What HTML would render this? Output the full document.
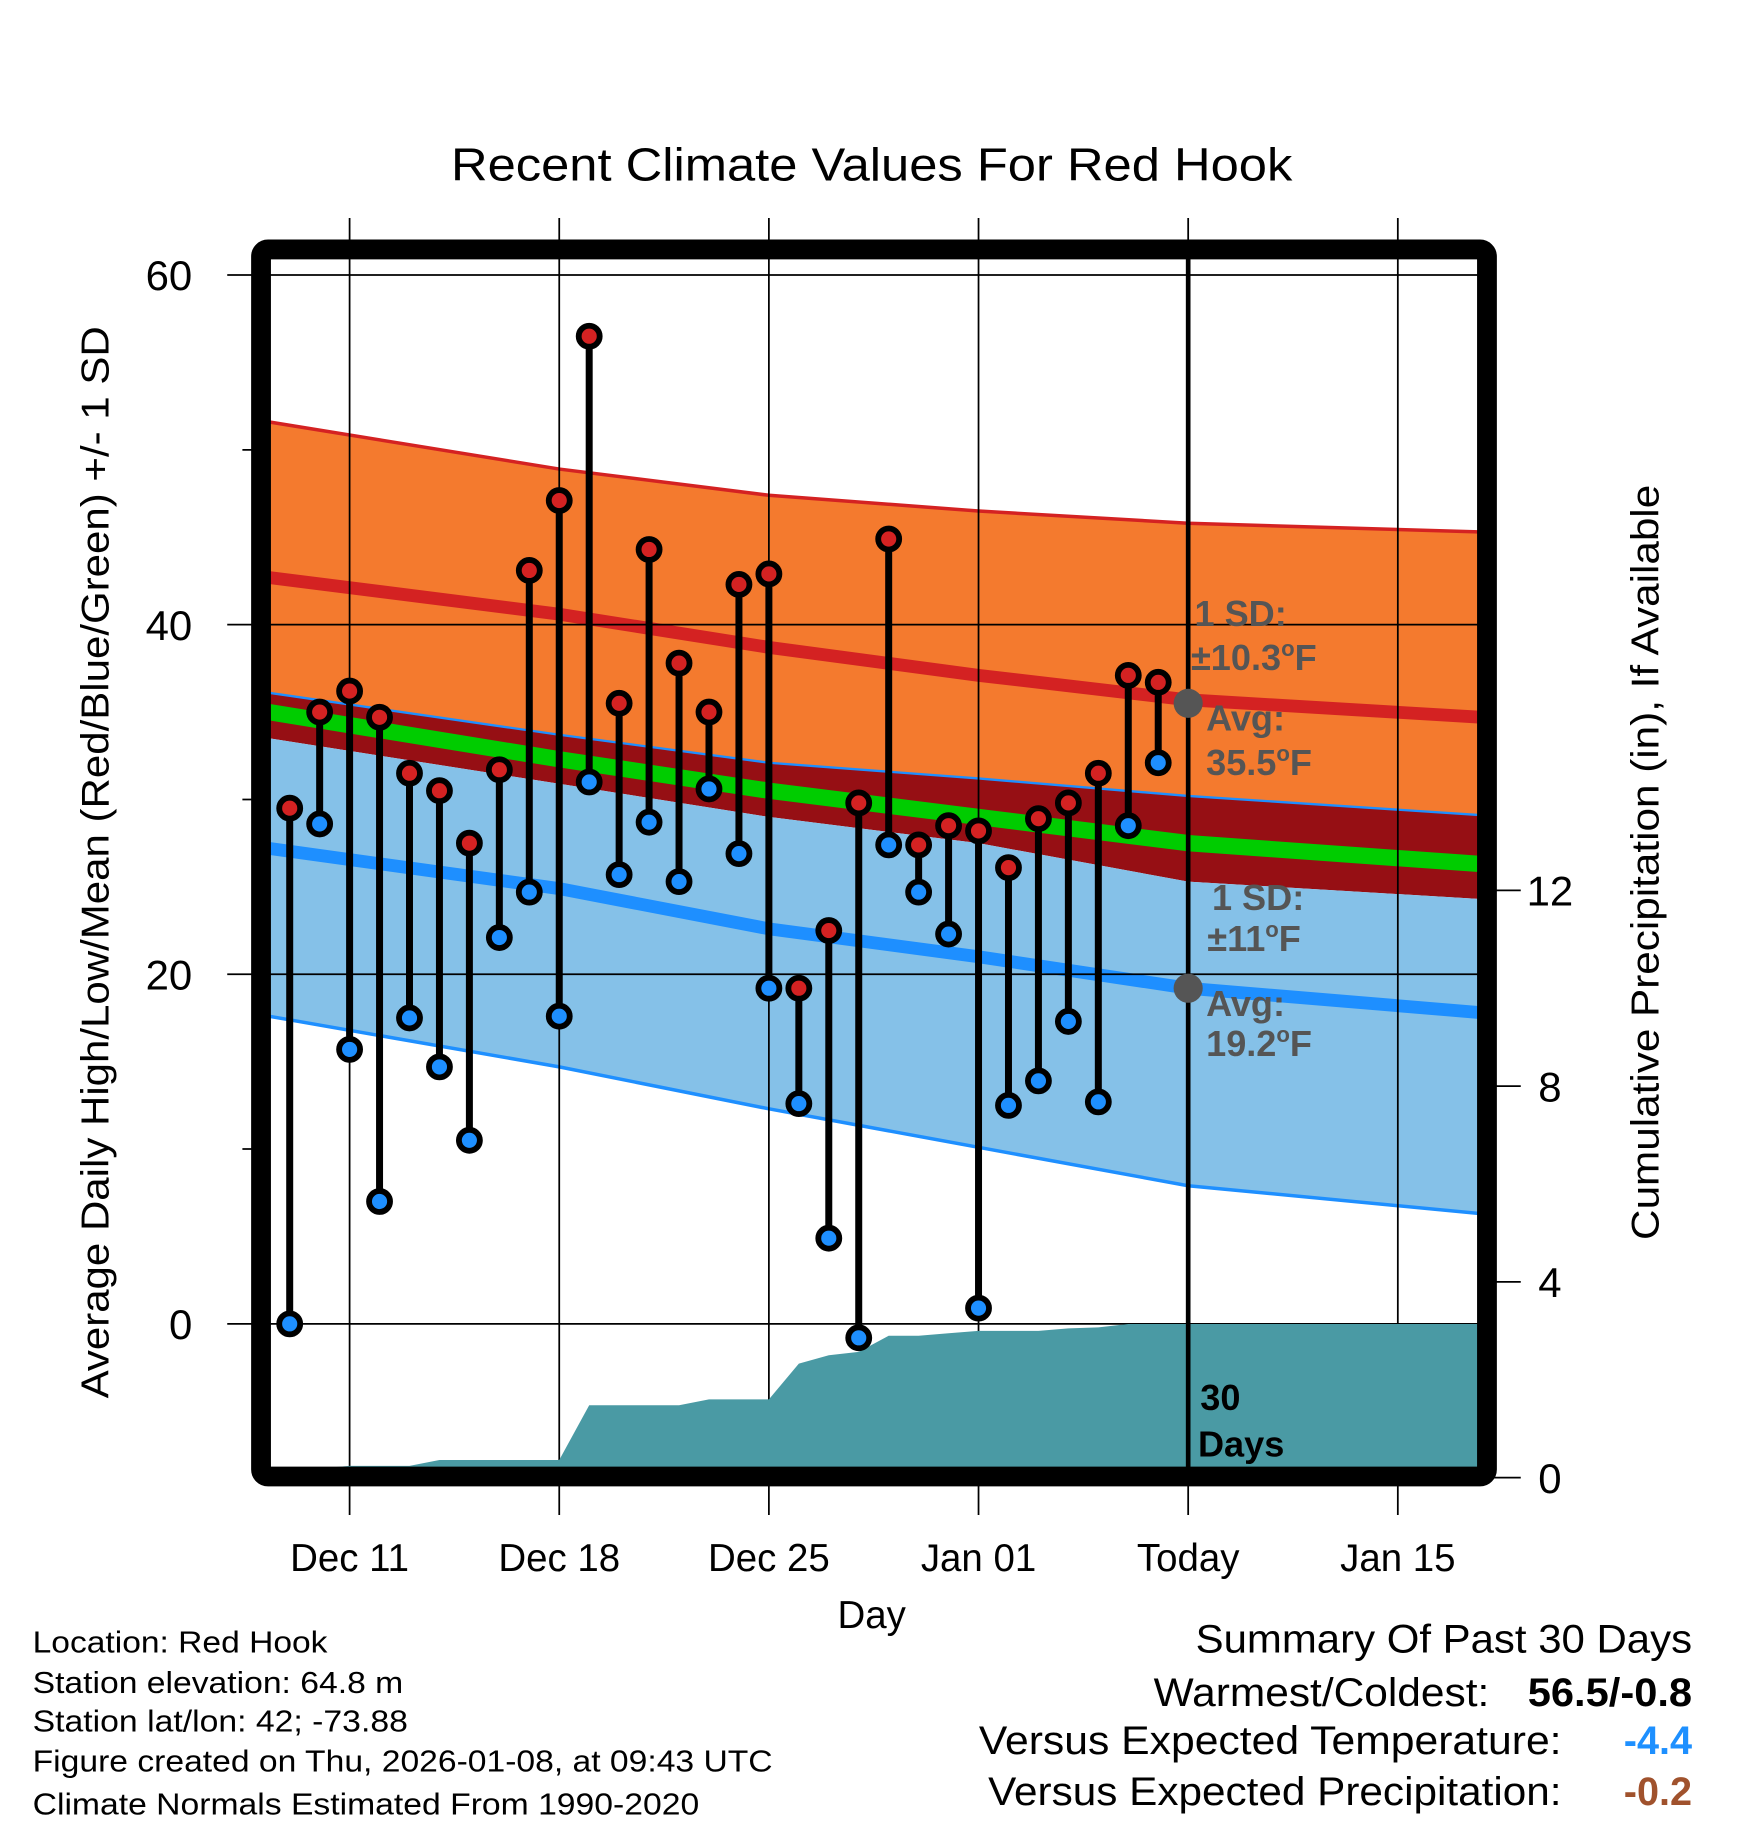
<!DOCTYPE html>
<html><head><meta charset="utf-8"><style>
html,body{margin:0;padding:0;background:#fff;}
svg{display:block;font-family:"Liberation Sans",Arial,sans-serif;}
</style></head><body>
<svg id="chart" width="1748" height="1828" viewBox="0 0 1500 1568.6">
<defs><clipPath id="plotclip"><rect x="231" y="222" width="1037" height="1038"/></clipPath></defs>
<text x="748" y="155" text-anchor="middle" font-size="40" textLength="722" lengthAdjust="spacingAndGlyphs">Recent Climate Values For Red Hook</text>
<g id="plot" clip-path="url(#plotclip)"></g>
<g id="over"></g>
<text transform="translate(93,740) rotate(-90)" text-anchor="middle" font-size="33" textLength="920" lengthAdjust="spacingAndGlyphs">Average Daily High/Low/Mean (Red/Blue/Green) +/- 1 SD</text>
<text transform="translate(1423,740) rotate(-90)" text-anchor="middle" font-size="33" textLength="648" lengthAdjust="spacingAndGlyphs">Cumulative Precipitation (in), If Available</text>
<text x="748" y="1397" text-anchor="middle" font-size="33">Day</text>
<g font-size="26">
<text x="28" y="1418" textLength="253" lengthAdjust="spacingAndGlyphs">Location: Red Hook</text>
<text x="28" y="1453" textLength="318" lengthAdjust="spacingAndGlyphs">Station elevation: 64.8 m</text>
<text x="28" y="1486" textLength="322" lengthAdjust="spacingAndGlyphs">Station lat/lon: 42; -73.88</text>
<text x="28" y="1520" textLength="635" lengthAdjust="spacingAndGlyphs">Figure created on Thu, 2026-01-08, at 09:43 UTC</text>
<text x="28" y="1557" textLength="572" lengthAdjust="spacingAndGlyphs">Climate Normals Estimated From 1990-2020</text>
</g>
<g font-size="34" text-anchor="end">
<text x="1452" y="1418" textLength="426" lengthAdjust="spacingAndGlyphs">Summary Of Past 30 Days</text>
<text x="1278" y="1464" textLength="288" lengthAdjust="spacingAndGlyphs">Warmest/Coldest:</text>
<text x="1452" y="1464" font-weight="bold" textLength="141" lengthAdjust="spacingAndGlyphs">56.5/-0.8</text>
<text x="1340" y="1505" textLength="500" lengthAdjust="spacingAndGlyphs">Versus Expected Temperature:</text>
<text x="1452" y="1505" font-weight="bold" fill="#1e90ff">-4.4</text>
<text x="1340" y="1549" textLength="492" lengthAdjust="spacingAndGlyphs">Versus Expected Precipitation:</text>
<text x="1452" y="1549" font-weight="bold" fill="#a0522d">-0.2</text>
</g>
</svg>
<script>
// ---- data ----
const days = ["Dec 09","Dec 10","Dec 11","Dec 12","Dec 13","Dec 14","Dec 15","Dec 16","Dec 17","Dec 18","Dec 19","Dec 20","Dec 21","Dec 22","Dec 23","Dec 24","Dec 25","Dec 26","Dec 27","Dec 28","Dec 29","Dec 30","Dec 31","Jan 01","Jan 02","Jan 03","Jan 04","Jan 05","Jan 06","Jan 07"];
const highs = [29.5,35.0,36.2,34.7,31.5,30.5,27.5,31.7,43.1,47.1,56.5,35.5,44.3,37.8,35.0,42.3,42.9,19.2,22.5,29.8,44.9,27.4,28.5,28.2,26.1,28.9,29.8,31.5,37.1,36.7];
const lows = [0.0,28.6,15.7,7.0,17.5,14.7,10.5,22.1,24.7,17.6,31.0,25.7,28.7,25.3,30.6,26.9,19.2,12.6,4.9,-0.8,27.4,24.7,22.3,0.9,12.5,13.9,17.3,12.7,28.5,32.1];
const precipCum = [0.19,0.19,0.24,0.24,0.24,0.36,0.36,0.36,0.36,0.36,1.48,1.48,1.48,1.48,1.60,1.60,1.60,2.33,2.50,2.57,2.90,2.90,2.95,3.00,3.00,3.00,3.05,3.07,3.14,3.14];
// normals at anchor day offsets (days from Dec 09)
const normDays = [-0.7,9,16,23,30,39.8];
const highPlusSD = [51.6,48.9,47.4,46.5,45.8,45.3];
const highMean = [42.7,40.6,38.7,37.1,35.7,34.7];
const highMinusSD = [36.1,33.7,32.1,31.2,30.2,29.1];
const avgMean = [35.0,32.3,30.5,29.0,27.5,26.3];
const overlapLow = [33.5,30.9,29.0,27.5,25.3,24.3];
const lowMean = [27.2,24.9,22.6,21.0,19.2,17.8];
const lowMinusSD = [17.6,14.7,12.3,10.1,7.9,6.3];
const yTicks = [0,20,40,60];
const yMinor = [10,30,50];
const y2Ticks = [0,4,8,12];
const xTickDays = [2,9,16,23,30,37];
const xTickLabels = ["Dec 11","Dec 18","Dec 25","Jan 01","Today","Jan 15"];
const todayDay = 30;
const todayHighAvg = 35.5, todayLowAvg = 19.2;

// ---- axes ----
const X = d => 248.6 + 25.7*d;
const Y = v => 1136 - 15*v;
const Y2 = p => 1268 - 42*p;
const NS = "http://www.w3.org/2000/svg";
function mk(tag, attrs, parent){const e=document.createElementNS(NS,tag);for(const k in attrs)e.setAttribute(k,attrs[k]);parent.appendChild(e);return e;}
const plot = document.getElementById('plot');
const over = document.getElementById('over');

function band(upper, lower, fill, name){
  let pts = normDays.map((d,i)=>X(d)+','+Y(upper[i]));
  for(let i=normDays.length-1;i>=0;i--) pts.push(X(normDays[i])+','+Y(lower[i]));
  const p = mk('polygon',{points:pts.join(' '),fill:fill},plot);
  
  
}
function line(vals, color, w, name){
  const p = mk('polyline',{points:normDays.map((d,i)=>X(d)+','+Y(vals[i])).join(' '),fill:'none',stroke:color,'stroke-width':w},plot);
  
  
}
band(highPlusSD, highMinusSD, '#f47a2e', 'high-sd-band');
band(highMinusSD, overlapLow, '#960f14', 'overlap-band');
band(overlapLow, lowMinusSD, '#85c1e8', 'low-sd-band');
line(highPlusSD, '#d42222', 3, 'high-plus-sd-line');
line(highMinusSD, '#1e8fff', 2, 'low-plus-sd-line');
line(lowMinusSD, '#1e8fff', 3, 'low-minus-sd-line');
line(highMean, '#d42222', 11, 'high-mean-line');
line(avgMean, '#00cc00', 14, 'mean-line');
line(lowMean, '#1e8fff', 11, 'low-mean-line');

yTicks.forEach(v=>{
  const l = mk('line',{x1:195,x2:1268,y1:Y(v),y2:Y(v),stroke:'#000','stroke-width':1.5},over);
  
  
  const t = mk('text',{x:165,y:Y(v)+13,'text-anchor':'end','font-size':36},over);
  t.textContent = v;
  
  
});
yMinor.forEach(v=>{
  const l = mk('line',{x1:208,x2:231,y1:Y(v),y2:Y(v),stroke:'#000','stroke-width':1.5},over);
  
  
});
xTickDays.forEach((d,i)=>{
  const l = mk('line',{x1:X(d),x2:X(d),y1:187,y2:1300,stroke:'#000','stroke-width':1.5},over);
  
  
  const t = mk('text',{x:X(d),y:1348,'text-anchor':'middle','font-size':33},over);
  t.textContent = xTickLabels[i];
  
  
});
y2Ticks.forEach(p=>{
  const l = mk('line',{x1:1276,x2:1305,y1:Y2(p),y2:Y2(p),stroke:'#000','stroke-width':1.5},over);
  
  
  const t = mk('text',{x:1330,y:Y2(p)+13,'text-anchor':'middle','font-size':36},over);
  t.textContent = p;
  
  
});

{
  let pts = [X(-0.7)+','+Y2(0), X(-0.7)+','+Y2(precipCum[0])];
  precipCum.forEach((p,i)=>pts.push(X(i)+','+Y2(p)));
  pts.push(X(39.8)+','+Y2(precipCum[precipCum.length-1]));
  pts.push(X(39.8)+','+Y2(0));
  const a = mk('polygon',{points:pts.join(' '),fill:'#4a9aa4','clip-path':'url(#plotclip)'},over);
  
  
}

{
  const l = mk('line',{x1:X(todayDay),x2:X(todayDay),y1:222,y2:1260,stroke:'#000','stroke-width':4},over);
  
  
}

days.forEach((d,i)=>{
  const b = mk('line',{x1:X(i),x2:X(i),y1:Y(highs[i]),y2:Y(lows[i]),stroke:'#000','stroke-width':6},over);
  
  
});
days.forEach((d,i)=>{
  const h = mk('circle',{cx:X(i),cy:Y(highs[i]),r:9,fill:'#d42222',stroke:'#000','stroke-width':5},over);
  
  
  const l = mk('circle',{cx:X(i),cy:Y(lows[i]),r:9,fill:'#1e8fff',stroke:'#000','stroke-width':5},over);
  
  
});

[[todayHighAvg,'high'],[todayLowAvg,'low']].forEach(([v,n])=>{
  const c = mk('circle',{cx:X(todayDay),cy:Y(v),r:12.5,fill:'#555'},over);
  
  
});
function ann(x,y,txt,name,fill,size){
  const t = mk('text',{x:x,y:y,'font-size':size||31,'font-weight':'bold',fill:fill||'#555'},over);
  t.innerHTML = txt;
  
  
}
ann(1025,537,'1 SD:','high-sd-label');
ann(1022,575,'±10.3<tspan dy="-12" font-size="19">o</tspan><tspan dy="12">F</tspan>','high-sd-value');
ann(1035,627,'Avg:','high-avg-label');
ann(1035,665,'35.5<tspan dy="-12" font-size="19">o</tspan><tspan dy="12">F</tspan>','high-avg-value');
ann(1040,781,'1 SD:','low-sd-label');
ann(1036,816,'±11<tspan dy="-12" font-size="19">o</tspan><tspan dy="12">F</tspan>','low-sd-value');
ann(1035,872,'Avg:','low-avg-label');
ann(1035,906,'19.2<tspan dy="-12" font-size="19">o</tspan><tspan dy="12">F</tspan>','low-avg-value');
ann(1030,1210,'30','days-count','#000',31);
ann(1028,1250,'Days','days-label','#000',31);

{
  const f = mk('rect',{x:224,y:214,width:1052,height:1053,rx:6,fill:'none',stroke:'#000','stroke-width':17},over);
  
  
}
</script>
</body></html>
